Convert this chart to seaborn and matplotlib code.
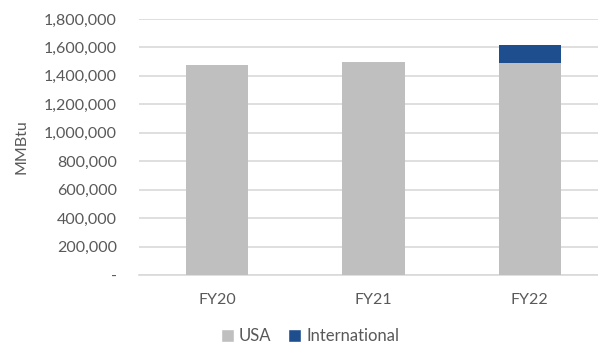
import matplotlib
matplotlib.use("Agg")
import matplotlib.pyplot as plt
from matplotlib.patches import Patch
from matplotlib.ticker import FuncFormatter
import seaborn as sns
import pandas as pd

years = ["FY20", "FY21", "FY22"]
usa = [1474000, 1498000, 1493000]
international = [0, 0, 121000]
y_ticks = [0, 200000, 400000, 600000, 800000, 1000000, 1200000, 1400000, 1600000, 1800000]

USA_COLOR = "#BFBFBF"
INTL_COLOR = "#1F4E8F"
TEXT_COLOR = "#595959"
GRID_COLOR = "#D9D9D9"

sns.set_theme(style="white")
plt.rcParams["font.family"] = ["Lato", "DejaVu Sans"]

df = pd.DataFrame({
    "year": years,
    "usa": usa,
    "total": [u + i for u, i in zip(usa, international)],
})

fig = plt.figure(figsize=(5.98, 3.45), dpi=100)
ax = fig.add_axes([139 / 598, 70 / 345, 469 / 598, 256 / 345])

# stacked bars: total in blue underneath, USA share drawn over it
sns.barplot(data=df, x="year", y="total", color=INTL_COLOR, width=0.4,
            saturation=1, linewidth=0, ax=ax, zorder=2)
sns.barplot(data=df, x="year", y="usa", color=USA_COLOR, width=0.4,
            saturation=1, linewidth=0, ax=ax, zorder=3)

ax.set_ylim(0, 1800000)
ax.set_xlim(-0.5, 2.5)
ax.set_yticks(y_ticks)
ax.yaxis.set_major_formatter(FuncFormatter(lambda v, _: "-" if v == 0 else f"{int(v):,}"))
ax.yaxis.grid(True, color=GRID_COLOR, linewidth=1.2, zorder=0)
ax.set_axisbelow(True)

for side in ["top", "right", "left"]:
    ax.spines[side].set_visible(False)
ax.spines["bottom"].set_color(GRID_COLOR)
ax.spines["bottom"].set_linewidth(1.2)

ax.tick_params(axis="both", length=0, labelsize=11.5, labelcolor=TEXT_COLOR)
ax.tick_params(axis="y", pad=16)
ax.tick_params(axis="x", pad=13)
ax.set_xlabel("")
ax.set_ylabel("MMBtu", fontsize=11.5, color=TEXT_COLOR, labelpad=11)

handles = [Patch(facecolor=USA_COLOR, label="USA"),
           Patch(facecolor=INTL_COLOR, label="International")]
fig.legend(handles=handles, loc="center", bbox_to_anchor=(310 / 598, 1 - 336 / 345),
           ncol=2, frameon=False, fontsize=12, labelcolor=TEXT_COLOR,
           handlelength=0.8, handleheight=0.8, handletextpad=0.3, columnspacing=1.0)

fig.savefig("out.png", dpi=100)
